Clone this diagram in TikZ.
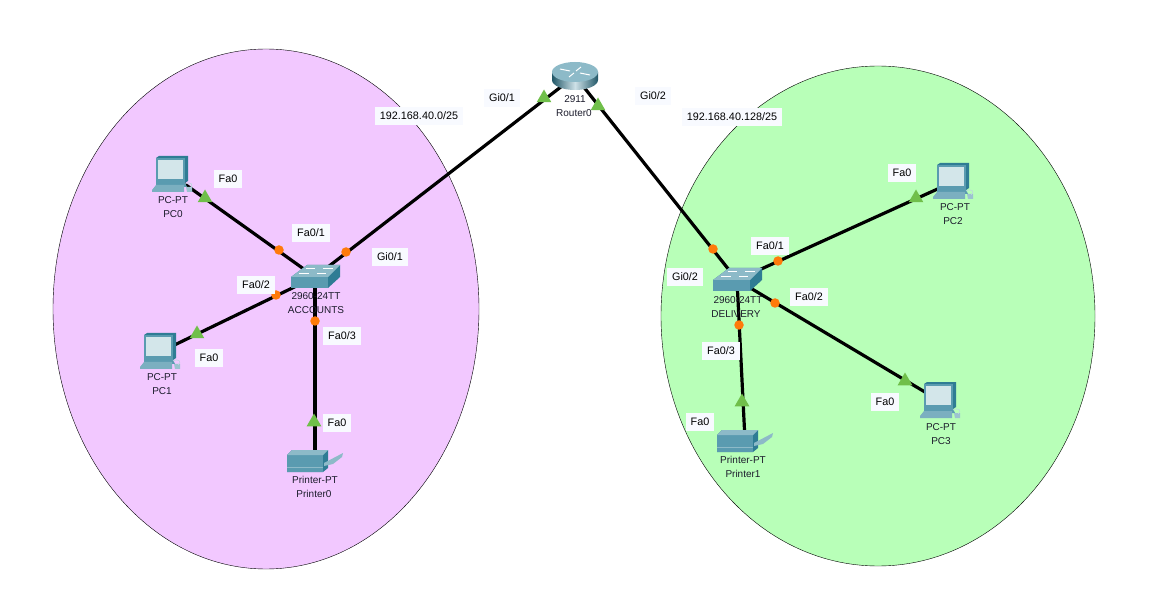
\documentclass[tikz,border=0pt]{standalone}
\usepackage{fontspec}
\setmainfont{Liberation Sans}
\usetikzlibrary{shapes.geometric}
\definecolor{pinkzone}{HTML}{F2C8FF}
\definecolor{greenzone}{HTML}{B8FFB8}
\definecolor{tealmid}{HTML}{5A9BB0}
\definecolor{tealdark}{HTML}{2F7C94}
\definecolor{tealtop}{HTML}{8DBAC8}
\definecolor{screenc}{HTML}{D3E6EA}
\definecolor{trig}{HTML}{70BF4A}
\definecolor{orng}{HTML}{FF7A0A}
\definecolor{labelbg}{HTML}{F8FAFF}
\definecolor{inkc}{HTML}{1C1C2C}
\tikzset{
  x=1pt,y=-1pt,
  zone/.style={draw=black,line width=0.4pt},
  link/.style={draw=black,line width=3.2pt},
  anchorpt/.style={inner sep=0pt,minimum size=0pt},
  tri/.style={regular polygon,regular polygon sides=3,fill=trig,inner sep=0pt,minimum size=17pt},
  dot/.style={circle,fill=orng,inner sep=0pt,minimum size=9.5pt},
  portlabel/.style={fill=labelbg,font=\fontsize{10.8}{12}\selectfont,text=black,inner xsep=5pt,inner ysep=5.5pt},
  devlabel/.style={font=\fontsize{10}{12}\selectfont,text=inkc,inner sep=0pt},
  pcicon/.pic={
    \fill[tealdark] (-16,-17) -- (-13,-19) -- (16,-19) -- (16,6) -- (13,8) -- (-16,8) -- cycle;
    \fill[tealmid] (-16,-17) -- (13,-17) -- (13,8) -- (-16,8) -- cycle;
    \fill[screenc] (-14,-15) -- (11,-15) -- (11,4) -- (-14,4) -- cycle;
    \fill[tealmid] (-16,8) -- (13,8) -- (15,12) -- (-16,12) -- cycle;
    \fill[tealmid!80!white] (-20,15) -- (-16,10) -- (12,10) -- (12,17) -- (-20,17) -- cycle;
    \fill[tealmid!60!white] (14,12) -- (20,12) -- (20,17) -- (15,17) -- cycle;
    \draw[tealmid!40!white,line width=0.6pt] (13,9) .. controls (19,6) and (22,10) .. (18,13);
  },
  switchicon/.pic={
    \fill[tealdark] (-24,0) -- (-8,-12) -- (25,-12) -- (25,0) -- (13,11) -- (-24,11) -- cycle;
    \fill[tealmid] (-24,0) -- (13,0) -- (13,11) -- (-24,11) -- cycle;
    \fill[tealtop] (-24,0) -- (-8,-12) -- (25,-12) -- (13,0) -- cycle;
    \draw[white,line width=0.6pt] (-9,-9) -- (0,-9) (8,-9) -- (18,-9) (-16,-4) -- (-6,-4) (2,-4) -- (11,-4);
  },
  printericon/.pic={
    \fill[tealdark] (-28,-5) -- (-23,-10) -- (13,-10) -- (13,8) -- (8,12) -- (-28,12) -- cycle;
    \fill[tealmid] (-28,-5) -- (8,-5) -- (8,12) -- (-28,12) -- cycle;
    \fill[tealtop] (-28,-5) -- (-23,-10) -- (13,-10) -- (8,-5) -- cycle;
    \draw[tealtop,line width=0.6pt] (-28,7) -- (8,7);
    \fill[tealtop] (9,3) -- (28,-7) -- (27,-3) -- (18,4) -- (9,6) -- cycle;
  },
  routericon/.pic={
    \shade[left color=tealdark!70!black,right color=tealdark!70!black,middle color=white!70!tealmid]
      (-23,-4) -- (-23,4) arc[start angle=180,end angle=0,x radius=23,y radius=10] -- (23,-4) -- cycle;
    \fill[tealtop] (0,-4) ellipse[x radius=23,y radius=10];
    \draw[white,line width=1pt] (-15,-7) -- (-5,-5) (15,-1) -- (5,-3) (-6,1) -- (-1,-3) (6,-9) -- (1,-5);
  },
}
\begin{document}
\begin{tikzpicture}
\useasboundingbox (0,0) rectangle (1165,612);
\fill[white] (0,0) rectangle (1165,612);
\draw[zone,fill=pinkzone] (266,309) ellipse[x radius=213,y radius=260];
\draw[zone,fill=greenzone] (878,316) ellipse[x radius=217,y radius=250];
% device anchors
\node[anchorpt] (pc0) at (172,175) {};
\node[anchorpt] (pc1) at (160,352) {};
\node[anchorpt] (pc2) at (953,182) {};
\node[anchorpt] (pc3) at (940,401) {};
\node[anchorpt] (printer0) at (315,460) {};
\node[anchorpt] (printer1) at (745,440) {};
\node[anchorpt] (sw0) at (315,277) {};
\node[anchorpt] (sw1) at (737,280) {};
\node[anchorpt] (router) at (575,76) {};
% connectors
\draw[link] (pc0) -- (sw0);
\draw[link] (pc1) -- (sw0);
\draw[link] (printer0) -- (sw0);
\draw[link] (sw0) -- (router);
\draw[link] (router) -- (sw1);
\draw[link] (pc2) -- (sw1);
\draw[link] (pc3) -- (sw1);
\draw[link] (printer1) -- (sw1);
% devices
\pic at (pc0) {pcicon};
\pic at (pc1) {pcicon};
\pic at (pc2) {pcicon};
\pic at (pc3) {pcicon};
\pic at (printer0) {printericon};
\pic at (printer1) {printericon};
\pic at (sw0) {switchicon};
\pic at (sw1) {switchicon};
\pic at (router) {routericon};
% link lights
\node[tri] (t1) at (205,198) {};
\node[tri] (t2) at (197,334) {};
\node[tri] (t3) at (314,422) {};
\node[tri] (t4) at (544,98) {};
\node[tri] (t5) at (598,106) {};
\node[tri] (t6) at (916,198) {};
\node[tri] (t7) at (905,381) {};
\node[tri] (t8) at (742,402) {};
\node[dot] (d1) at (279,250) {};
\node[dot] (d2) at (346,252) {};
\node[dot] (d3) at (276,295) {};
\node[dot] (d4) at (315,321) {};
\node[dot] (d5) at (713,249) {};
\node[dot] (d6) at (778,261) {};
\node[dot] (d7) at (775,303) {};
\node[dot] (d8) at (739,325) {};
% port labels
\node[portlabel] (l1) at (228,179) {Fa0};
\node[portlabel] (l2) at (311,233) {Fa0/1};
\node[portlabel] (l3) at (390,257) {Gi0/1};
\node[portlabel] (l4) at (256,285) {Fa0/2};
\node[portlabel] (l5) at (342,336) {Fa0/3};
\node[portlabel] (l6) at (209,358) {Fa0};
\node[portlabel] (l7) at (337,423) {Fa0};
\node[portlabel] (l8) at (419,116) {192.168.40.0/25};
\node[portlabel] (l9) at (502,98) {Gi0/1};
\node[portlabel] (l10) at (653,96) {Gi0/2};
\node[portlabel] (l11) at (732,117) {192.168.40.128/25};
\node[portlabel] (l12) at (902,173) {Fa0};
\node[portlabel] (l13) at (770,246) {Fa0/1};
\node[portlabel] (l14) at (685,277) {Gi0/2};
\node[portlabel] (l15) at (809,297) {Fa0/2};
\node[portlabel] (l16) at (721,351) {Fa0/3};
\node[portlabel] (l17) at (885,402) {Fa0};
\node[portlabel] (l18) at (700,422) {Fa0};
% device labels
\node[devlabel] (n1) at (173,200) {PC-PT};
\node[devlabel] (n2) at (173,214) {PC0};
\node[devlabel] (n3) at (162,377) {PC-PT};
\node[devlabel] (n4) at (162,391) {PC1};
\node[devlabel] (n5) at (316,296) {2960-24TT};
\node[devlabel] (n6) at (316,310) {ACCOUNTS};
\node[devlabel] (n7) at (315,480) {Printer-PT};
\node[devlabel] (n8) at (314,494) {Printer0};
\node[devlabel] (n9) at (575,99) {2911};
\node[devlabel] (n10) at (574,113) {Router0};
\node[devlabel] (n11) at (955,207) {PC-PT};
\node[devlabel] (n12) at (953,221) {PC2};
\node[devlabel] (n13) at (941,427) {PC-PT};
\node[devlabel] (n14) at (941,441) {PC3};
\node[devlabel] (n15) at (738,300) {2960-24TT};
\node[devlabel] (n16) at (736,314) {DELIVERY};
\node[devlabel] (n17) at (743,460) {Printer-PT};
\node[devlabel] (n18) at (743,474) {Printer1};
\end{tikzpicture}
\end{document}
